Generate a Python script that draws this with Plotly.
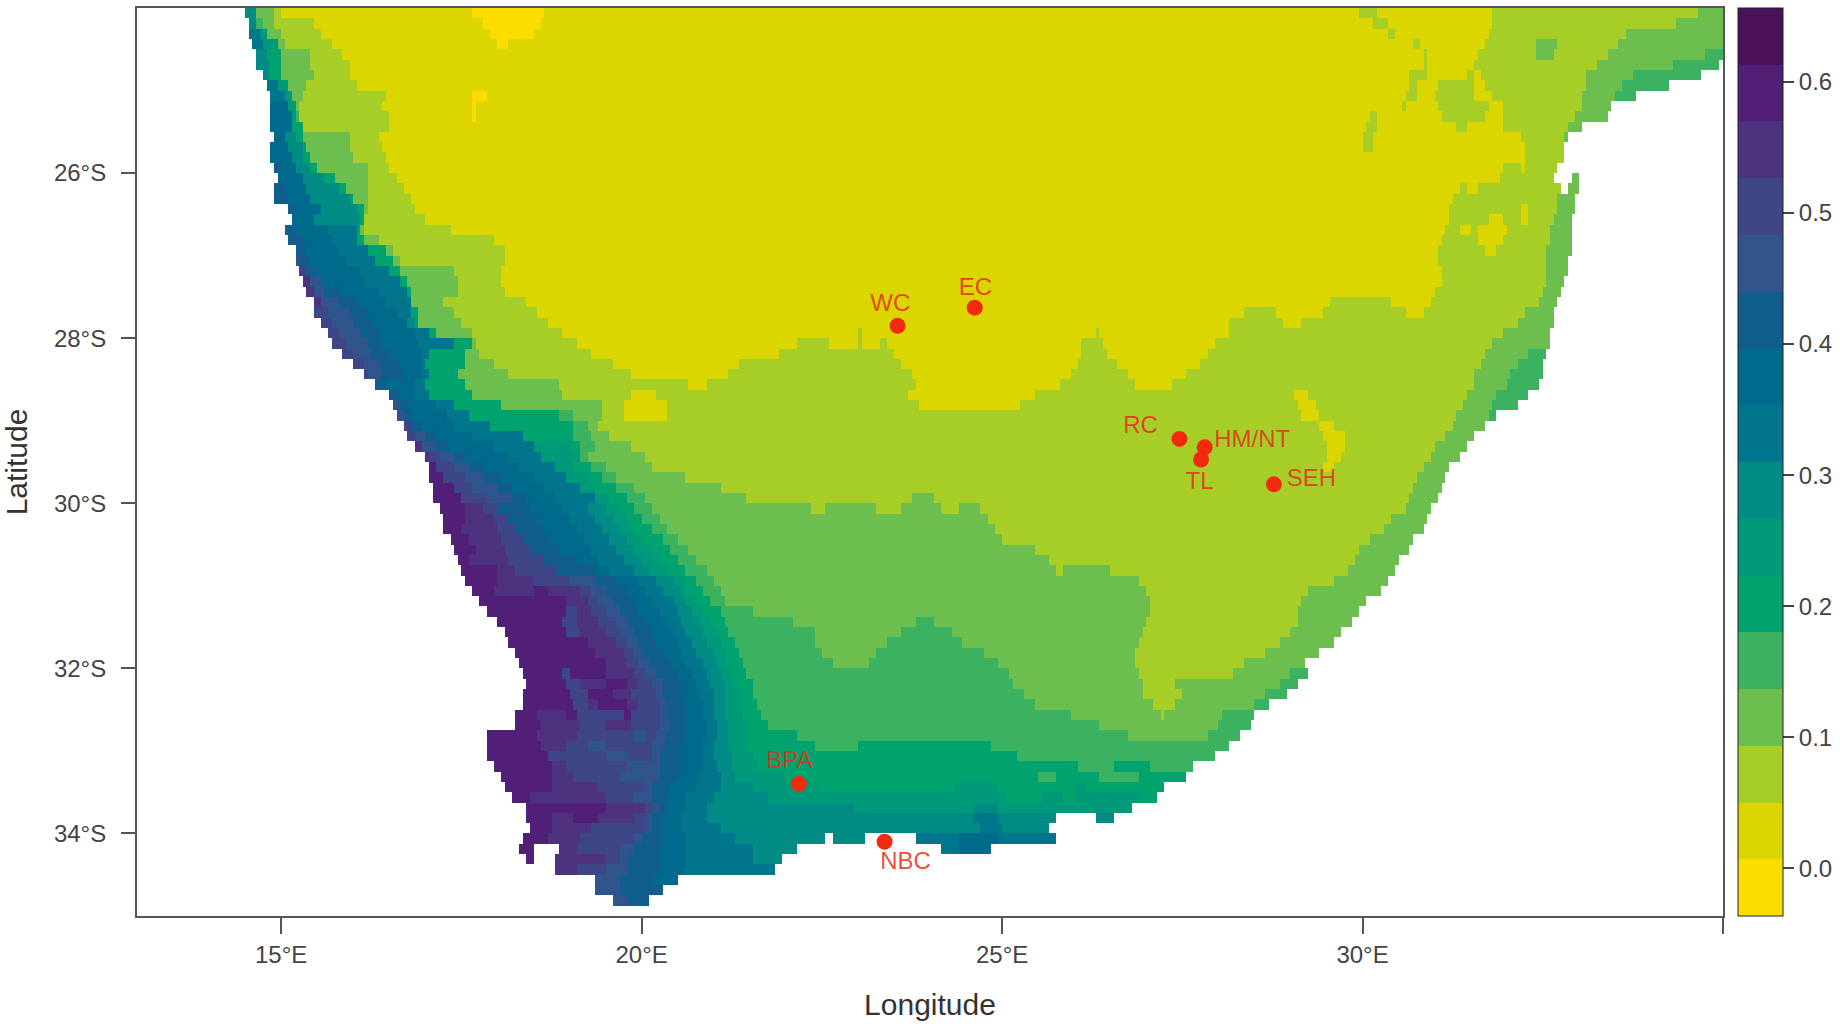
import bisect
import plotly.graph_objects as go

# band starts along each row, west to east: "band:lon", x = sea, hex band number
# one row every 0.125 deg, from 24.0625S down to 34.9375S
MAP_ROWS = [
    "7:14.52 3:14.63 2:14.88 1:15.02 0:17.66 1:18.67 2:29.96 1:30.19 2:31.81 3:34.67",
    "7:14.54 4:14.67 3:14.74 2:14.88 1:15.44 0:17.79 1:18.6 2:30.14 1:30.35 2:31.78 3:34.35",
    "8:14.56 6:14.7 3:14.81 2:15.02 1:15.53 0:17.91 1:18.49 2:30.35 1:30.47 2:31.76 3:33.66",
    "8:14.6 6:14.74 3:14.93 2:15.07 1:15.71 0:18.0 1:18.16 2:30.7 1:30.79 2:31.71 3:32.41 2:32.68 3:33.56",
    "7:14.63 5:14.81 3:15.02 2:15.41 1:15.85 2:30.84 1:30.89 2:31.62 3:32.38 2:32.64 3:33.38 4:34.77",
    "7:14.65 5:14.84 3:15.02 2:15.41 1:15.97 2:30.84 1:30.9 2:31.57 3:33.24 4:34.3 x:34.97",
    "7:14.77 5:14.86 3:15.02 2:15.44 1:15.95 2:30.65 1:30.88 2:31.44 1:31.53 2:31.67 3:33.12 4:33.75 x:34.72",
    "8:14.81 6:14.97 3:15.09 2:15.34 1:16.04 2:30.65 1:30.74 2:31.07 1:31.53 2:31.71 3:33.08 4:33.61 x:34.26",
    "8:14.86 6:15.04 3:15.14 2:15.3 1:16.45 0:17.63 1:17.86 2:30.6 1:30.74 2:31.02 1:31.57 2:31.81 3:33.05 4:33.49 x:33.79",
    "9:14.84 6:15.11 3:15.18 2:15.25 1:16.41 0:17.63 1:17.68 2:30.53 1:30.62 2:31.07 1:31.76 2:31.94 3:33.03 x:33.45",
    "9:14.84 6:15.14 4:15.18 2:15.25 1:16.5 0:17.63 1:17.68 2:30.1 1:30.19 2:31.11 1:31.71 2:31.97 3:32.96 x:33.38",
    "9:14.86 5:15.14 2:15.3 1:16.5 2:30.05 1:30.19 2:31.3 1:31.44 2:31.97 3:32.85 x:33.03",
    "9:14.88 7:15.04 5:15.18 3:15.3 2:15.95 1:16.36 2:30.0 1:30.17 2:32.22 3:32.82 x:32.87",
    "9:14.86 7:15.11 5:15.28 3:15.34 2:15.97 1:16.41 2:29.98 1:30.14 2:32.27 x:32.81",
    "9:14.84 7:15.16 5:15.32 3:15.4 2:16.02 1:16.45 2:32.27 x:32.78",
    "a:14.9 9:15.02 7:15.18 5:15.41 3:15.5 2:16.2 1:16.48 2:31.94 1:32.18 2:32.24 x:32.71",
    "9:14.93 7:15.3 5:15.62 3:15.76 2:16.22 1:16.59 2:31.9 x:32.64 3:32.88 x:33.01",
    "a:14.92 9:15.07 7:15.34 5:15.81 3:15.92 2:16.18 1:16.68 2:31.34 1:31.44 2:31.62 x:32.75 3:32.84 x:32.98",
    "a:14.92 9:15.11 7:15.39 5:15.95 3:16.02 2:16.2 1:16.78 2:31.23 3:32.71 x:32.96",
    "a:15.11 9:15.2 7:15.53 5:16.06 3:16.13 2:16.18 1:16.85 2:31.2 1:32.2 2:32.31 3:32.68 x:32.94",
    "9:15.15 7:15.46 5:16.08 2:16.15 1:17.0 2:31.18 1:31.76 2:31.97 1:32.2 2:32.31 3:32.64 x:32.92",
    "a:15.07 9:15.2 8:15.67 5:16.04 3:16.08 2:16.15 1:17.33 2:31.16 1:31.34 2:31.48 1:31.62 2:31.99 3:32.62 x:32.91",
    "a:15.12 9:15.3 8:15.71 5:16.04 3:16.13 2:16.36 1:17.93 2:31.11 1:31.62 2:31.94 3:32.59 x:32.91",
    "b:15.18 a:15.2 9:15.34 8:15.81 5:16.22 3:16.45 2:16.55 1:18.12 2:31.07 1:31.71 2:31.85 3:32.57 x:32.89",
    "b:15.21 a:15.25 9:15.39 8:15.9 5:16.3 3:16.55 2:16.64 1:18.12 2:31.07 3:32.55 x:32.87",
    "c:15.25 a:15.34 9:15.48 8:16.08 5:16.5 3:16.64 2:17.38 1:18.07 2:31.11 3:32.55 x:32.85",
    "d:15.32 b:15.41 9:15.53 8:16.13 5:16.64 3:16.73 2:17.45 1:18.03 2:31.11 3:32.55 x:32.8",
    "d:15.37 b:15.46 a:15.62 9:15.81 8:16.36 5:16.73 3:16.82 2:17.47 1:18.12 2:31.02 3:32.52 x:32.77",
    "d:15.45 b:15.53 a:15.81 9:16.04 8:16.45 5:16.78 3:16.82 2:17.24 1:18.4 2:29.54 1:30.42 2:30.97 3:32.45 x:32.71",
    "c:15.47 b:15.67 a:15.95 9:16.18 8:16.59 5:16.82 3:16.9 2:17.38 1:18.53 2:28.34 1:28.8 2:29.45 1:30.6 2:30.83 3:32.27 x:32.66",
    "c:15.53 b:15.71 a:15.99 9:16.27 7:16.73 5:16.87 3:16.92 2:17.52 1:18.72 2:28.15 1:28.9 2:29.17 3:32.13 x:32.63",
    "c:15.65 b:15.81 a:16.08 9:16.36 8:16.87 5:17.05 3:17.15 2:17.66 1:18.9 2:23.02 1:23.07 2:26.3 1:26.37 2:28.13 3:31.94 x:32.62",
    "c:15.72 b:15.9 a:16.18 9:16.41 8:16.92 5:17.42 3:17.66 2:17.7 1:19.09 2:22.14 1:22.6 2:22.99 1:23.07 2:23.3 1:23.41 2:26.12 1:26.4 2:27.97 3:31.81 x:32.62",
    "c:15.83 b:15.99 a:16.27 9:16.5 8:16.96 5:17.05 3:17.56 2:17.75 1:19.32 2:21.9 1:23.5 2:26.12 1:26.47 2:27.87 3:31.71 4:32.31 x:32.57",
    "c:15.99 b:16.13 a:16.36 9:16.64 8:16.96 5:17.0 3:17.56 2:17.93 1:19.6 2:21.35 1:23.6 2:26.05 1:26.58 2:27.76 3:31.64 4:32.13 x:32.52",
    "c:16.15 b:16.22 a:16.41 9:16.69 8:16.96 5:17.05 3:17.47 2:18.17 1:19.83 2:21.2 1:23.74 2:25.94 1:26.77 2:27.55 3:31.57 4:32.04 x:32.5",
    "a:16.32 9:16.45 8:16.87 5:17.0 3:17.56 2:18.86 1:20.66 2:20.89 1:23.78 2:25.8 1:26.86 2:27.37 3:31.53 4:31.99 x:32.43",
    "a:16.48 9:16.64 8:16.87 5:17.05 3:17.66 2:18.9 1:19.83 2:20.2 1:23.72 2:25.47 1:29.05 2:29.24 3:31.46 4:31.87 x:32.31",
    "b:16.57 a:16.64 9:16.73 8:17.15 5:17.38 3:18.03 2:19.46 1:19.74 2:20.34 1:23.85 2:25.24 1:29.08 2:29.33 3:31.39 4:31.78 x:32.13",
    "b:16.59 a:16.71 9:16.82 8:17.29 5:17.61 4:18.86 3:19.04 2:19.46 1:19.74 2:20.34 1:29.17 2:29.42 3:31.3 4:31.76 x:31.85",
    "c:16.69 a:16.78 9:16.96 8:17.42 5:17.89 4:19.04 3:19.27 2:19.41 1:29.38 2:29.61 3:31.23 x:31.69",
    "c:16.75 b:16.85 a:17.01 9:17.15 8:17.66 5:18.35 4:19.04 3:19.32 2:19.55 1:29.47 2:29.73 3:31.14 x:31.57",
    "d:16.87 b:16.96 a:17.15 9:17.29 8:17.93 6:18.49 5:19.0 4:19.14 3:19.37 2:19.83 1:29.49 2:29.73 3:31.02 x:31.46",
    "d:16.99 c:17.06 b:17.19 a:17.38 9:17.56 8:18.16 6:18.58 4:19.14 3:19.27 2:20.06 1:29.52 2:29.68 3:30.95 x:31.37",
    "e:17.03 c:17.15 b:17.38 a:17.61 9:17.79 8:18.31 6:18.81 5:19.04 4:19.32 3:19.51 2:20.15 1:29.45 2:29.59 3:30.84 x:31.2",
    "e:17.06 c:17.24 b:17.56 a:17.79 9:18.03 8:18.49 6:18.95 5:19.23 4:19.46 3:19.64 2:20.62 3:30.74 x:31.14",
    "e:17.08 c:17.38 b:17.66 a:17.98 9:18.21 8:18.67 6:19.13 5:19.37 4:19.64 3:19.88 2:21.08 3:30.72 x:31.09",
    "e:17.1 c:17.52 b:17.84 a:18.21 9:18.4 8:18.81 6:19.37 5:19.55 4:19.78 3:20.06 2:21.45 3:23.76 2:24.04 3:30.65 x:31.04",
    "e:17.2 d:17.54 c:17.8 a:18.0 9:18.45 8:18.9 7:19.23 6:19.5 5:19.69 4:19.92 3:20.16 2:22.33 3:22.56 2:23.25 3:23.62 2:24.13 3:24.42 2:24.68 3:30.6 x:30.97",
    "e:17.24 d:17.57 c:17.94 a:18.15 9:18.54 8:19.0 7:19.37 6:19.6 5:19.79 4:20.02 3:20.25 2:24.78 3:30.4 x:30.9",
    "e:17.27 d:17.52 c:17.98 a:18.26 9:18.63 8:19.09 7:19.46 6:19.69 5:19.92 4:20.16 3:20.36 2:24.92 3:30.3 x:30.85",
    "e:17.34 d:17.61 c:18.03 a:18.35 9:18.72 8:19.18 7:19.55 6:19.81 5:20.02 4:20.29 3:20.48 2:25.0 3:30.1 x:30.7",
    "e:17.38 d:17.71 c:18.08 a:18.45 9:18.86 8:19.3 7:19.65 6:19.92 5:20.16 4:20.39 3:20.66 2:25.43 3:29.95 x:30.65",
    "e:17.45 d:17.61 c:18.17 a:18.63 9:19.09 8:19.42 7:19.74 6:20.02 5:20.25 4:20.5 3:20.76 2:25.66 3:29.9 x:30.5",
    "e:17.52 d:17.98 c:18.26 a:18.82 9:19.37 8:19.56 7:19.88 6:20.11 5:20.34 4:20.62 3:20.9 2:25.73 3:25.85 2:26.49 3:29.8 x:30.45",
    "e:17.57 d:17.98 c:18.49 b:19.0 a:19.37 9:19.65 8:19.97 7:20.2 6:20.43 5:20.6 4:20.76 3:21.0 2:26.9 3:29.6 x:30.37",
    "e:17.64 d:17.94 e:18.49 d:18.68 c:19.14 b:19.32 a:19.51 9:19.79 8:20.06 7:20.29 6:20.53 5:20.62 4:20.85 3:21.08 2:27.0 3:29.25 x:30.25",
    "e:17.75 d:18.95 c:19.23 b:19.42 a:19.6 9:19.88 8:20.16 7:20.43 6:20.62 5:20.76 4:20.97 3:21.17 2:27.04 3:29.15 x:30.05",
    "e:17.84 c:18.95 d:19.09 c:19.32 b:19.51 a:19.69 9:19.97 8:20.25 7:20.48 6:20.71 5:20.85 4:21.08 3:21.54 2:27.04 3:29.1 x:29.95",
    "e:18.0 c:18.91 d:19.09 c:19.42 b:19.65 a:19.79 9:20.06 8:20.34 7:20.57 6:20.81 5:20.94 4:21.17 3:22.1 4:23.81 3:24.05 2:26.98 3:29.08 x:29.83",
    "e:18.1 c:18.95 d:19.14 c:19.51 b:19.69 a:19.88 9:20.16 8:20.43 7:20.62 6:20.85 5:21.03 4:21.22 3:22.38 4:23.62 3:24.32 2:26.93 3:29.0 x:29.7",
    "e:18.17 d:19.23 c:19.65 b:19.79 a:19.97 9:20.2 8:20.48 7:20.71 6:20.9 5:21.08 4:21.31 3:22.38 4:23.39 3:24.45 2:26.88 3:28.85 x:29.58",
    "e:18.24 d:19.37 c:19.74 b:19.88 a:20.02 9:20.29 8:20.57 7:20.76 6:20.99 5:21.13 4:21.36 3:22.52 4:23.25 3:24.73 2:26.87 3:28.65 x:29.38",
    "e:18.28 d:19.51 c:19.79 b:19.97 a:20.11 9:20.39 8:20.62 7:20.85 6:21.03 5:21.17 4:21.4 3:22.65 4:23.16 3:24.96 2:26.86 3:28.35 x:29.2",
    "e:18.33 c:18.91 e:19.0 d:19.51 c:19.88 b:20.06 a:20.2 9:20.48 8:20.71 7:20.9 6:21.08 5:21.27 4:21.45 3:25.1 2:26.88 3:28.2 4:28.99 x:29.24",
    "e:18.38 c:18.95 d:19.14 e:19.51 d:19.8 c:19.97 b:20.16 a:20.29 9:20.53 8:20.76 7:20.94 6:21.13 5:21.31 4:21.54 3:25.15 2:26.93 3:27.41 4:28.85 x:29.08",
    "e:18.33 c:19.0 e:19.23 d:19.6 c:19.83 b:20.2 a:20.32 9:20.55 8:20.81 7:20.99 6:21.13 5:21.36 4:21.54 3:25.29 2:26.95 3:27.5 4:28.66 x:28.94",
    "e:18.33 c:19.05 d:19.23 e:19.42 d:19.79 c:19.95 b:20.25 a:20.34 9:20.62 8:20.85 7:21.01 6:21.15 5:21.36 4:21.59 3:25.47 2:27.09 3:27.41 4:28.48 x:28.71",
    "e:18.26 d:18.54 e:18.95 c:19.09 e:19.74 c:19.83 b:20.25 a:20.36 9:20.62 8:20.85 7:21.01 6:21.17 5:21.4 4:21.63 3:25.93 2:27.2 3:27.27 4:28.06 x:28.48",
    "e:18.24 d:18.58 c:19.14 d:19.51 c:19.83 b:20.25 a:20.39 9:20.62 8:20.9 7:21.03 6:21.2 5:21.43 4:21.73 3:26.35 4:28.0 x:28.43",
    "e:17.87 d:18.54 c:19.09 b:19.88 c:20.06 b:20.22 a:20.34 9:20.62 8:20.9 7:21.03 6:21.22 5:21.45 4:22.14 3:26.77 4:27.83 x:28.29",
    "e:17.87 d:18.58 c:18.95 b:19.23 c:19.51 b:20.16 a:20.29 9:20.57 8:20.85 7:20.99 6:21.22 5:21.45 4:22.42 5:22.98 4:24.87 x:28.13",
    "e:17.87 c:18.72 b:19.51 c:19.79 b:20.16 a:20.25 9:20.53 8:20.85 7:20.99 6:21.24 5:21.54 4:25.19 x:27.97",
    "e:17.96 d:18.77 c:18.95 b:19.79 a:20.25 9:20.53 8:20.85 7:21.03 6:21.27 5:21.59 4:26.03 5:26.54 4:27.04 x:27.67",
    "e:18.05 d:18.77 c:19.05 b:19.69 a:20.25 9:20.48 8:20.81 7:21.08 6:21.31 5:22.01 4:25.52 5:25.75 4:26.35 5:26.9 x:27.55",
    "e:18.1 d:18.77 c:19.42 b:20.06 a:20.16 9:20.39 8:20.76 7:21.08 6:21.54 5:22.47 6:24.36 5:24.96 6:26.03 5:26.17 x:27.27",
    "e:18.21 d:18.44 c:19.51 b:19.92 a:20.16 9:20.34 8:20.62 7:20.99 6:21.77 5:25.06 6:25.56 5:25.84 6:26.03 5:26.9 x:27.14",
    "e:18.38 d:19.51 c:20.06 b:20.16 a:20.25 9:20.34 8:20.62 7:20.9 6:22.93 7:24.59 6:24.96 x:26.81",
    "e:18.4 d:18.77 e:19.05 d:19.42 c:19.88 b:20.06 a:20.16 9:20.29 8:20.57 7:20.9 8:24.6 7:24.96 x:25.75 7:26.3 x:26.55",
    "e:18.45 d:18.77 c:19.32 b:20.06 a:20.16 9:20.25 8:20.57 7:21.08 8:24.69 7:25.01 x:25.66",
    "e:18.33 d:18.7 c:19.14 b:19.88 a:20.02 9:20.29 8:20.62 7:21.31 x:22.56 7:22.65 x:23.1 8:23.81 9:24.41 8:24.96 x:25.73",
    "e:18.31 x:18.49 d:18.85 c:19.09 b:19.69 a:19.92 9:20.25 8:20.62 7:21.54 x:22.14 8:24.17 9:24.41 x:24.87",
    "e:18.42 x:18.51 d:18.8 c:19.51 b:19.69 a:19.8 9:20.25 8:20.62 7:21.54 x:21.94",
    "d:18.8 c:19.09 b:19.51 a:19.8 9:20.25 8:20.62 x:21.87",
    "b:19.35 a:19.69 9:20.16 x:20.48",
    "b:19.33 a:19.69 x:20.32",
    "b:19.58 a:19.79 x:20.08",
    "",
]

# colour bands, lowest value first
BAND_COLORS = [
    "#FDDC00", "#DBD500", "#A6CE27", "#6CBF4F", "#3BB25F", "#00A36E", "#00997A", "#008B85",
    "#00758C", "#006A8C", "#115D8C", "#2F558C", "#3F4688", "#4D3280", "#511F75", "#4A1258",
]
BAND_MIN = -0.0365
BAND_MAX = 0.6565

SITE_NAMES = ["WC", "EC", "RC", "HM/NT", "TL", "SEH", "BPA", "NBC"]
SITE_LON = [23.55, 24.62, 27.46, 27.81, 27.76, 28.77, 22.18, 23.37]
SITE_LAT = [-27.85, -27.63, -29.22, -29.32, -29.47, -29.77, -33.40, -34.10]
LABEL_LON = [23.45, 24.63, 26.92, 28.47, 27.74, 29.29, 22.05, 23.66]
LABEL_LAT = [-27.60, -27.40, -29.08, -29.24, -29.75, -29.72, -33.14, -34.36]

LON_TICKS = [15, 20, 25, 30, 35]
LON_LABELS = ["15°E", "20°E", "25°E", "30°E", ""]
LAT_TICKS = [-26, -28, -30, -32, -34]
LAT_LABELS = ["26°S", "28°S", "30°S", "32°S", "34°S"]
BAR_TICKS = [0.0, 0.1, 0.2, 0.3, 0.4, 0.5, 0.6]

n_bands = len(BAND_COLORS)
band_width = (BAND_MAX - BAND_MIN) / n_bands

lons = [13 + 0.05 * i + 0.025 for i in range(440)]
lats = [-24.0625 - 0.125 * i for i in range(len(MAP_ROWS))]


def expand_row(row):
    """Turn one "band:lon" row into a z value per column."""
    starts, bands = [], []
    for tok in row.split():
        band, lon = tok.split(":")
        bands.append(None if band == "x" else int(band, 16))
        starts.append(float(lon))
    z_row = []
    for lon in lons:
        i = bisect.bisect_right(starts, lon) - 1
        if i < 0 or bands[i] is None:
            z_row.append(None)
        else:
            z_row.append(BAND_MIN + (bands[i] + 0.5) * band_width)
    return z_row


z = [expand_row(r) for r in MAP_ROWS]

# stepped scale so the heatmap and the colour bar show flat bands
colorscale = []
for i, c in enumerate(BAND_COLORS):
    colorscale.append([i / n_bands, c])
    colorscale.append([(i + 1) / n_bands, c])

fig = go.Figure()

fig.add_trace(go.Heatmap(
    x=lons, y=lats, z=z,
    zmin=BAND_MIN, zmax=BAND_MAX,
    colorscale=colorscale,
    hoverongaps=False,
    colorbar=dict(
        x=1.0092, xanchor="left", xpad=0,
        y=0, yanchor="bottom", ypad=0,
        len=1, lenmode="fraction",
        thickness=45, thicknessmode="pixels",
        outlinecolor="#222222", outlinewidth=1,
        tickvals=BAR_TICKS, ticktext=[f"{v:.1f}" for v in BAR_TICKS],
        ticks="outside", ticklen=11, tickwidth=2, tickcolor="#444444",
        tickfont=dict(family="Liberation Sans", size=24, color="#444444"),
    ),
))

# ── Sites ──
fig.add_trace(go.Scatter(
    x=SITE_LON, y=SITE_LAT,
    mode="markers",
    marker=dict(size=16, color="#F22B0E"),
    showlegend=False,
))
fig.add_trace(go.Scatter(
    x=LABEL_LON, y=LABEL_LAT,
    mode="text",
    text=SITE_NAMES,
    textposition="middle center",
    textfont=dict(family="Liberation Sans", size=24, color="rgba(226,48,24,0.85)"),
    showlegend=False,
))

fig.update_layout(
    width=1840, height=1024,
    margin=dict(l=137, r=117, t=6, b=108),
    paper_bgcolor="white",
    plot_bgcolor="white",
    showlegend=False,
    font=dict(family="Liberation Sans", color="#333333"),
    xaxis=dict(
        range=[13, 35], showgrid=False, zeroline=False,
        showline=True, mirror=True, linecolor="#555555", linewidth=2,
        tickvals=LON_TICKS, ticktext=LON_LABELS,
        ticks="outside", ticklen=16, tickwidth=2, tickcolor="#555555",
        tickfont=dict(size=24, color="#444444"),
        ticklabelstandoff=0,
        title=dict(text="Longitude", font=dict(size=30, color="#333333"), standoff=27),
    ),
    yaxis=dict(
        range=[-35, -24], showgrid=False, zeroline=False,
        showline=True, mirror=True, linecolor="#555555", linewidth=2,
        tickvals=LAT_TICKS, ticktext=LAT_LABELS,
        ticks="outside", ticklen=14, tickwidth=2, tickcolor="#555555",
        tickfont=dict(size=24, color="#444444"),
        ticklabelstandoff=10,
        title=dict(text="Latitude", font=dict(size=30, color="#333333"), standoff=18),
    ),
)

# the page's default body margin would push the fixed-size figure off by 8px
fig.write_html(
    "out.html",
    config={"displayModeBar": False},
    post_script="document.body.style.margin='0';",
)
